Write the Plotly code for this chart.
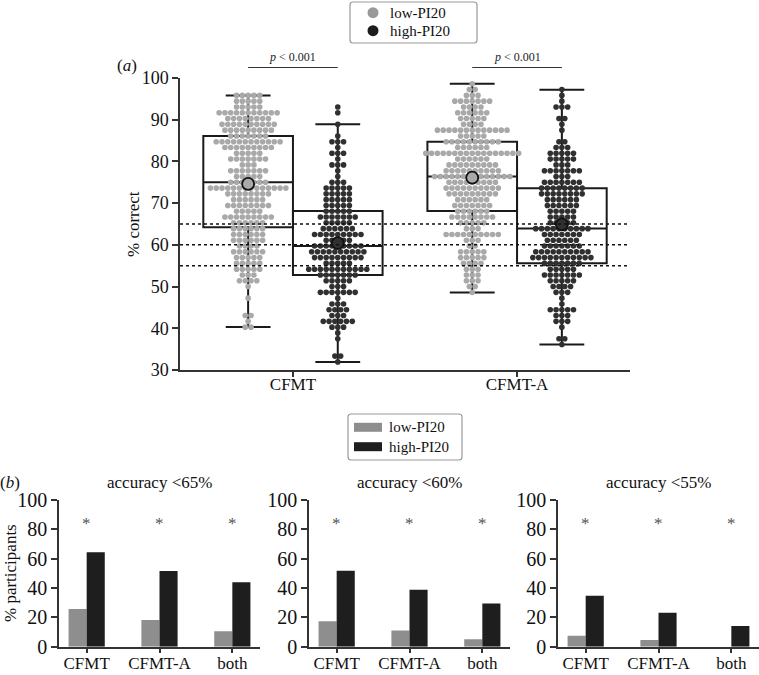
import plotly.graph_objects as go

# ---------------- data ----------------
tests = ["CFMT", "CFMT-A"]
groups = ["low-PI20", "high-PI20"]
n_items = 72  # scores are number correct out of 72 -> % correct

# swarm data: score levels (items correct) and number of participants at each level
cfmt_low_k = [69, 68, 67, 66, 65, 64, 63, 62, 61, 60, 59, 58, 57, 56, 55, 54, 53, 52, 51, 50,
              49, 48, 47, 46, 45, 44, 43, 42, 41, 40, 39, 38, 37, 36, 34, 31, 30, 29]
cfmt_low_n = [5, 5, 5, 11, 8, 10, 9, 7, 12, 9, 5, 7, 3, 7, 5, 7, 14, 8, 6, 8,
              5, 9, 6, 6, 6, 6, 4, 6, 5, 5, 5, 3, 4, 1, 1, 2, 1, 2]

cfmt_high_k = [67, 66, 64, 62, 61, 60, 59, 58, 57, 56, 55, 54, 53, 52, 51, 50, 49, 48, 47, 46,
               45, 44, 43, 42, 41, 40, 39, 38, 37, 36, 35, 34, 33, 32, 31, 30, 29, 28, 27, 24, 23]
cfmt_high_n = [1, 1, 1, 1, 3, 1, 3, 1, 3, 1, 1, 3, 5, 5, 5, 5, 5, 7, 5, 6,
               9, 5, 9, 10, 9, 5, 11, 7, 5, 3, 7, 1, 3, 4, 3, 6, 3, 1, 1, 2, 1]

cfmta_low_k = [71, 70, 69, 68, 67, 66, 65, 64, 63, 62, 61, 60, 59, 58, 57, 56, 55, 54, 53, 52,
               51, 50, 49, 48, 47, 46, 45, 44, 43, 42, 41, 40, 39, 38, 37, 36, 35]
cfmta_low_n = [1, 2, 3, 7, 4, 6, 5, 4, 13, 5, 10, 6, 17, 6, 9, 10, 14, 9, 10, 9,
               6, 7, 6, 8, 5, 3, 10, 3, 2, 5, 5, 4, 3, 3, 3, 2, 1]

cfmta_high_k = [70, 69, 68, 67, 65, 64, 63, 61, 60, 59, 58, 57, 56, 55, 54, 53, 52, 51, 50, 49,
                48, 47, 46, 45, 44, 43, 42, 41, 40, 39, 38, 37, 36, 35, 34, 33, 32, 31, 30, 29, 27, 26]
cfmta_high_n = [1, 1, 1, 3, 2, 1, 1, 2, 3, 5, 5, 3, 7, 3, 7, 8, 8, 6, 6, 5,
                5, 5, 10, 7, 6, 7, 10, 11, 7, 5, 7, 5, 4, 3, 1, 1, 5, 3, 3, 1, 2, 1]

# box summaries (order: CFMT low, CFMT high, CFMT-A low, CFMT-A high)
box_q1 = [64.2, 52.8, 68.1, 55.6]
box_median = [75.0, 59.7, 76.4, 63.9]
box_q3 = [86.1, 68.1, 84.7, 73.6]
box_lower = [40.3, 31.9, 48.6, 36.1]
box_upper = [95.8, 88.9, 98.6, 97.2]
box_mean = [74.6, 60.4, 76.1, 64.9]

thresholds = [65, 60, 55]

# panel (b): % participants below accuracy thresholds
bar_categories = ["CFMT", "CFMT-A", "both"]
acc65_low = [25.7, 18.2, 10.5]
acc65_high = [64.3, 51.6, 44.0]
acc60_low = [17.3, 11.1, 5.0]
acc60_high = [51.8, 38.9, 29.5]
acc55_low = [7.5, 4.5, 0.0]
acc55_high = [34.8, 23.2, 14.1]

# ---------------- style ----------------
W, H = 759, 675
FONT = "Liberation Serif, Times New Roman, serif"
LOW_DOT = "#a9a9a9"
HIGH_DOT = "#303030"
LOW_BAR = "#8e8e8e"
HIGH_BAR = "#1e1e1e"
LEG_LOW = "#999999"
LEG_HIGH = "#1c1c1c"
AX = "#333333"


def px(x):
    return x / W


def py(y):
    return 1 - y / H


fig = go.Figure()

# ---------------- panel (a): swarm + boxes ----------------
offsets = [-0.2, 0.2]
dx = 0.0259
columns = [
    (0, 0, cfmt_low_k, cfmt_low_n),
    (0, 1, cfmt_high_k, cfmt_high_n),
    (1, 0, cfmta_low_k, cfmta_low_n),
    (1, 1, cfmta_high_k, cfmta_high_n),
]
for ti, gi, ks, ns in columns:
    xs, ys = [], []
    centre = ti + offsets[gi]
    for k, n in zip(ks, ns):
        for j in range(n):
            xs.append(centre + (j - (n - 1) / 2) * dx)
            ys.append(k / n_items * 100)
    fig.add_trace(go.Scatter(
        x=xs, y=ys, mode="markers",
        marker=dict(size=5.6, color=LOW_DOT if gi == 0 else HIGH_DOT, line=dict(width=0)),
        name=groups[gi], showlegend=False, xaxis="x", yaxis="y", hoverinfo="skip"))

for i, (ti, gi, _, _) in enumerate(columns):
    fig.add_trace(go.Box(
        x=[ti + offsets[gi]], q1=[box_q1[i]], median=[box_median[i]], q3=[box_q3[i]],
        lowerfence=[box_lower[i]], upperfence=[box_upper[i]],
        width=0.4, whiskerwidth=0.5, fillcolor="rgba(0,0,0,0)",
        line=dict(color="#1a1a1a", width=2), boxpoints=False,
        showlegend=False, xaxis="x", yaxis="y", hoverinfo="skip"))

for i, (ti, gi, _, _) in enumerate(columns):
    fig.add_trace(go.Scatter(
        x=[ti + offsets[gi]], y=[box_mean[i]], mode="markers",
        marker=dict(size=12, color=LOW_DOT if gi == 0 else HIGH_DOT,
                    line=dict(color="#111111", width=1.8)),
        showlegend=False, xaxis="x", yaxis="y", hoverinfo="skip"))

for t in thresholds:
    fig.add_shape(type="line", xref="x domain", x0=0, x1=1, yref="y", y0=t, y1=t,
                  line=dict(color="#111111", width=1.5, dash="dot"), layer="above")

# significance brackets
for ti in range(len(tests)):
    fig.add_shape(type="line", xref="x", x0=ti + offsets[0], x1=ti + offsets[1],
                  yref="paper", y0=py(67.5), y1=py(67.5),
                  line=dict(color=AX, width=1.2))
    fig.add_annotation(x=ti, xref="x", y=py(57), yref="paper", text="<i>p</i> &lt; 0.001",
                       showarrow=False, font=dict(family=FONT, size=12, color="#222"),
                       xanchor="center", yanchor="middle")

# ---------------- panel (b): bars ----------------
bar_sets = [(acc65_low, acc65_high, "accuracy &lt;65%"),
            (acc60_low, acc60_high, "accuracy &lt;60%"),
            (acc55_low, acc55_high, "accuracy &lt;55%")]
panel_x = [(59, 260), (309, 510), (558, 759)]
for p, (lows, highs, title) in enumerate(bar_sets):
    xa = "x%d" % (p + 2)
    ya = "y%d" % (p + 2)
    fig.add_trace(go.Bar(x=bar_categories, y=lows, name=groups[0], marker=dict(color=LOW_BAR, line=dict(width=0)),
                         xaxis=xa, yaxis=ya, showlegend=False,
                         offsetgroup="low", hoverinfo="skip"))
    fig.add_trace(go.Bar(x=bar_categories, y=highs, name=groups[1], marker=dict(color=HIGH_BAR, line=dict(width=0)),
                         xaxis=xa, yaxis=ya, showlegend=False,
                         offsetgroup="high", hoverinfo="skip"))
    x0, x1 = panel_x[p]
    fig.add_annotation(x=px((x0 + x1) / 2), xref="paper", y=py(482), yref="paper", text=title,
                       showarrow=False, font=dict(family=FONT, size=17, color="#111"),
                       xanchor="center", yanchor="middle")
    for c in bar_categories:
        fig.add_annotation(x=c, xref=xa, y=84, yref=ya, text="*", showarrow=False,
                           font=dict(family=FONT, size=17, color="#555555"),
                           xanchor="center", yanchor="middle")

# ---------------- legends (drawn as key boxes) ----------------
def legend_box(x0, y0, x1, y1, r=3):
    X0, X1, Y0, Y1 = px(x0), px(x1), py(y0), py(y1)
    rx, ry = r / W, r / H
    path = (f"M{X0 + rx},{Y0} L{X1 - rx},{Y0} Q{X1},{Y0} {X1},{Y0 - ry} "
            f"L{X1},{Y1 + ry} Q{X1},{Y1} {X1 - rx},{Y1} L{X0 + rx},{Y1} "
            f"Q{X0},{Y1} {X0},{Y1 + ry} L{X0},{Y0 - ry} Q{X0},{Y0} {X0 + rx},{Y0} Z")
    fig.add_shape(type="path", path=path, xref="paper", yref="paper",
                  line=dict(color="#999999", width=1.2), fillcolor="white", layer="above")


# legend for (a)
legend_box(350, 2, 477, 43)
for gi, (cy, col) in enumerate([(12.7, LEG_LOW), (30.7, LEG_HIGH)]):
    fig.add_shape(type="circle", xref="paper", yref="paper",
                  x0=px(373 - 5.5), x1=px(373 + 5.5), y0=py(cy - 5.5), y1=py(cy + 5.5),
                  fillcolor=col, line=dict(width=0), layer="above")
    fig.add_annotation(x=px(388), y=py(cy), xref="paper", yref="paper", text=groups[gi],
                       showarrow=False, xanchor="left", yanchor="middle",
                       font=dict(family=FONT, size=15, color="#111"))

# legend for (b)
legend_box(348, 414, 462, 460)
for gi, (cy, col) in enumerate([(427.3, LOW_BAR), (446.7, HIGH_BAR)]):
    fig.add_shape(type="rect", xref="paper", yref="paper",
                  x0=px(354), x1=px(382), y0=py(cy - 4.5), y1=py(cy + 4.5),
                  fillcolor=col, line=dict(width=0), layer="above")
    fig.add_annotation(x=px(387), y=py(cy), xref="paper", yref="paper", text=groups[gi],
                       showarrow=False, xanchor="left", yanchor="middle",
                       font=dict(family=FONT, size=15, color="#111"))

# ---------------- axes ----------------
axis_common = dict(showline=True, linecolor=AX, linewidth=1.5, ticks="outside",
                   tickcolor=AX, tickwidth=1.5, showgrid=False, zeroline=False,
                   fixedrange=True, automargin=False)

layout = dict(
    template="none",
    width=W, height=H, margin=dict(l=0, r=0, t=0, b=0, pad=0, autoexpand=False),
    paper_bgcolor="white", plot_bgcolor="white",
    font=dict(family=FONT, color="#111111"),
    boxmode="overlay", barmode="group", bargap=0.503, showlegend=False,
    xaxis=dict(axis_common, domain=[px(180), px(630)], range=[-0.504, 1.504],
               tickvals=[0, 1], ticktext=tests, ticklen=5, ticklabelstandoff=-7,
               tickfont=dict(size=17, family=FONT), anchor="y"),
    yaxis=dict(axis_common, domain=[py(370), py(78)], range=[30, 100],
               tickvals=[30, 40, 50, 60, 70, 80, 90, 100], ticklen=6,
               tickfont=dict(size=18, family=FONT), anchor="x"),
)
for p, (x0, x1) in enumerate(panel_x):
    n = p + 2
    layout["xaxis%d" % n] = dict(axis_common, domain=[px(x0), px(x1)], range=[-0.38, 2.38],
                                 type="category", ticklen=5, ticklabelstandoff=-5,
                                 tickfont=dict(size=17, family=FONT), anchor="y%d" % n)
    layout["yaxis%d" % n] = dict(axis_common, domain=[py(646.7), py(500)], range=[0, 100],
                                 tickvals=[0, 20, 40, 60, 80, 100], ticklen=6,
                                 tickfont=dict(size=20, family=FONT), anchor="x%d" % n)
fig.update_layout(**layout)

# panel labels and axis titles
for x, y, text, ang in [(127, 66, "(<i>a</i>)", 0), (10, 482, "(<i>b</i>)", 0),
                        (133, 224, "% correct", -90), (10, 573, "% participants", -90)]:
    fig.add_annotation(x=px(x), y=py(y), xref="paper", yref="paper", text=text,
                       textangle=ang, showarrow=False, xanchor="center", yanchor="middle",
                       font=dict(family=FONT, size=17, color="#111"))

fig.write_html("out.html", config={"displayModeBar": False},
               post_script="document.body.style.margin='0px';document.body.style.overflow='hidden';")
